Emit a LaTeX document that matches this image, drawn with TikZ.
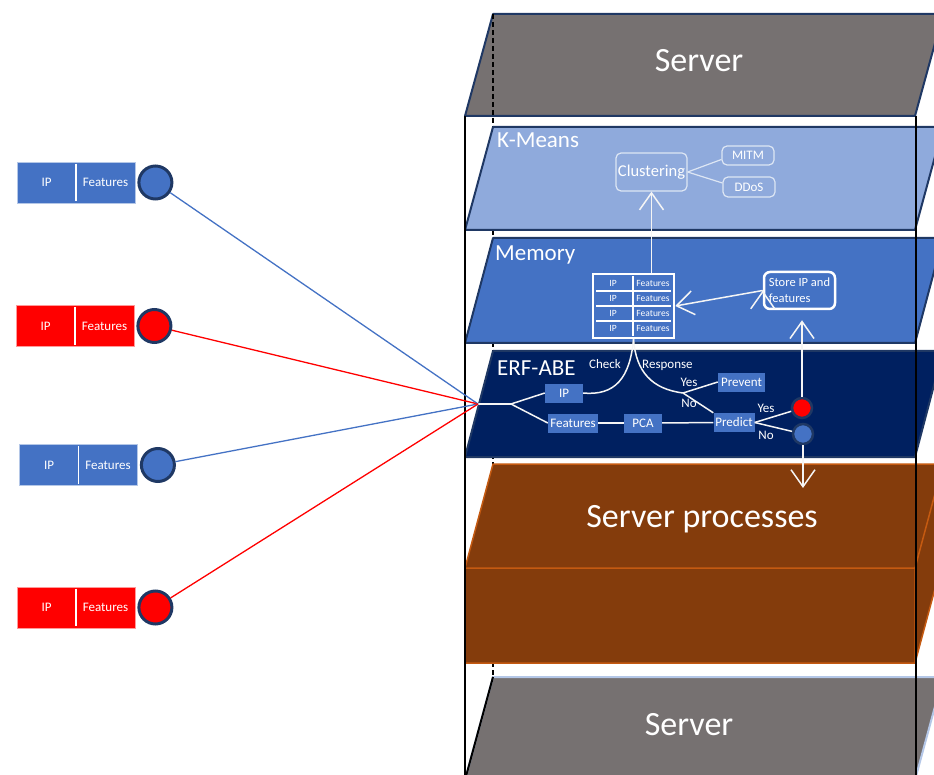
\documentclass[tikz,border=0pt]{standalone}
\usepackage{fontspec}
\setmainfont{Carlito}
\usetikzlibrary{arrows.meta,positioning}

\definecolor{servergray}{HTML}{767171}
\definecolor{edgenavy}{HTML}{1F3864}
\definecolor{kmeansblue}{HTML}{8FAADC}
\definecolor{memblue}{HTML}{4472C4}
\definecolor{erfnavy}{HTML}{002060}
\definecolor{procbrown}{HTML}{843C0C}
\definecolor{procorange}{HTML}{C55A11}
\definecolor{paleblue}{HTML}{B4C7E7}
\definecolor{steelblue}{HTML}{44546A}
\definecolor{attackred}{HTML}{FF0000}

\tikzset{
  layer/.style={draw=edgenavy,line width=2pt,line join=round},
  backedge/.style={draw=black,line width=1.2pt,dash pattern=on 5pt off 3pt},
  frame/.style={draw=black,line width=2pt},
  title/.style={text=white,font=\fontsize{23}{27}\selectfont,anchor=base west,inner sep=0pt},
  bigtitle/.style={text=white,font=\fontsize{34}{40}\selectfont,anchor=base,inner sep=0pt},
  packet/.style={fill=#1,draw=white!60!#1,line width=.8pt,minimum width=118pt,minimum height=41pt,
    inner sep=0pt,text=white,font=\fontsize{13}{15}\selectfont},
  host/.style={circle,fill=#1,draw=edgenavy,line width=3pt,minimum size=33pt,inner sep=0pt},
  flag/.style={circle,fill=#1,draw=edgenavy,line width=2.5pt,minimum size=20pt,inner sep=0pt},
  stage/.style={fill=memblue,text=white,font=\fontsize{13}{15}\selectfont,inner sep=1pt,minimum height=19pt},
  note/.style={text=white,font=\fontsize{13}{15}\selectfont,inner sep=0pt,anchor=base},
  flow/.style={draw=white!92!gray,line width=1.5pt},
  ghost/.style={draw=white!70!kmeansblue,line width=1.2pt,rounded corners=5pt,text=white,inner sep=1pt},
  memtable/.style={draw=white,fill=memblue,line width=2.5pt,minimum width=81pt,minimum height=64pt},
  cell/.style={text=white,font=\fontsize{9.5}{11}\selectfont,inner sep=0pt},
  storebox/.style={draw=white,line width=2.5pt,rounded corners=6pt,text=white,align=left,
    font=\fontsize{12.5}{16}\selectfont,minimum width=71pt,minimum height=37pt,inner xsep=4.5pt,inner ysep=3pt},
}

\begin{document}
\begin{tikzpicture}[x=1pt,y=-1pt,>={Straight Barb[length=17pt,width=24pt]}]
\clip (0,0) rectangle (934,775);

% server on top, with the hidden back edge
\filldraw[layer,fill=servergray] (493,14) -- (943,14) -- (915,116) -- (465,116) -- cycle;
\draw[backedge] (493,14) -- (493,677);

% the three detection layers
\filldraw[layer,fill=kmeansblue] (493,127) -- (943,127) -- (915,230) -- (465,230) -- cycle;
\filldraw[layer,fill=memblue] (493,238) -- (943,238) -- (915,343) -- (465,343) -- cycle;
\filldraw[layer,fill=erfnavy] (493,351) -- (943,351) -- (915,457) -- (465,457) -- cycle;

% server processes block
\filldraw[draw=procorange,fill=procbrown,line width=1.5pt,line join=round]
  (493,464) -- (943,464) -- (943,559) -- (915,663) -- (465,663) -- (465,568) -- cycle;
\draw[procorange,line width=1.5pt] (465,568) -- (915,568) -- (943,464) (915,568) -- (915,663);

% server at the bottom
\filldraw[draw=paleblue,fill=servergray,line width=2pt] (493,677) -- (943,677) -- (915,780) -- (465,780) -- cycle;
\draw[line width=2pt,top color=paleblue,bottom color=steelblue] (493,677) -- (465,780);

\draw[frame] (465,116) -- (465,780) (916,116) -- (916,780);

\node[bigtitle] (srvtop) at (699,72) {Server};
\node[title] (kmtitle) at (497,148) {K-Means};
\node[title] (memtitle) at (495,261) {Memory};
\node[title] (erftitle) at (497,375) {ERF-ABE};
\node[bigtitle] (proctitle) at (702,527) {Server processes};
\node[bigtitle] (srvbottom) at (689,735) {Server};

% K-Means
\node[ghost,minimum width=71pt,minimum height=38pt,font=\fontsize{16.5}{19}\selectfont] (clustering) at (651.5,172) {Clustering};
\node[ghost,minimum width=52pt,minimum height=19pt,font=\fontsize{13}{15}\selectfont] (mitm) at (748,155.5) {MITM};
\node[ghost,minimum width=52pt,minimum height=20pt,font=\fontsize{13}{15}\selectfont] (ddos) at (749,187) {DDoS};
\draw[ghost,rounded corners=0pt] (clustering.east) -- ([yshift=-4pt]mitm.west)
  (clustering.east) -- ([yshift=4pt]ddos.west);

% Memory
\node[memtable] (table) at (633.5,306) {};
\foreach \r in {0,...,3} {
  \node[cell] (ipcell\r) at (613,283.5+15*\r) {IP};
  \node[cell] (ftcell\r) at (653,283.5+15*\r) {Features};
}
\foreach \r in {1,2,3}
  \draw[white,line width=1.2pt] (596,276+15*\r) -- (671,276+15*\r);
\draw[white,line width=1.2pt] (633,276) -- (633,336);
\node[storebox] (store) at (799.5,290.5) {Store IP and\\features};

% ERF-ABE
\coordinate (entry) at (478,404);
\coordinate (fork) at (511,404);
\coordinate (resp) at (683,393);
\node[stage,minimum width=38pt] (ip) at (564,393) {IP};
\node[stage,minimum width=50pt] (feat) at (573,423) {Features};
\node[stage,minimum width=38pt] (pca) at (643,423) {PCA};
\node[stage,minimum width=41pt] (predict) at (734,422.5) {Predict};
\node[stage,minimum width=47pt] (prevent) at (741.5,382) {Prevent};
\node[flag=attackred] (alarm) at (802,408) {};
\node[flag=memblue] (safe) at (803,434) {};
\coordinate (procin) at (803,488);

\path[flow]
  (entry) edge (fork)
  (fork) edge (ip.west)
  (fork) edge (feat.west)
  (feat) edge (pca)
  (pca) edge (predict)
  (resp) edge (prevent.west)
  (resp) edge (predict.north west)
  (predict.east) edge (alarm)
  (predict.east) edge (safe);
\draw[flow] (ip.east) .. controls (615,396) and (630,378) .. (table.south);
\draw[flow] (table.south) .. controls (636,372) and (652,389) .. (resp);

\node[note,anchor=base east] (check) at (621,369) {Check};
\node[note,anchor=base west] (response) at (642,369) {Response};
\node[note] (yes1) at (689,386) {Yes};
\node[note] (no1) at (689,407) {No};
\node[note] (yes2) at (766,412) {Yes};
\node[note] (no2) at (766,439) {No};

% data moving between layers
\path[flow,->]
  (clustering.south |- table.north) edge (clustering.south)
  (store.west) edge (table.east)
  (alarm) edge[shorten >=10pt] (alarm |- store.south)
  (safe) edge (procin);

% incoming traffic
\foreach \n/\c/\x/\y in {1/memblue/76/182.5, 2/attackred/75/326, 3/memblue/78.5/465, 4/attackred/76/607.5} {
  \node[packet=\c] (p\n) at (\x,\y) {\makebox[59pt]{IP}\makebox[59pt]{Features}};
  \draw[white,line width=1.5pt] ([yshift=-2pt]p\n.north) -- ([yshift=2pt]p\n.south);
  \node[host=\c,right=2pt of p\n] (h\n) {};
  \draw[\c,line width=1.3pt] (h\n) -- (entry);
}
\end{tikzpicture}
\end{document}
